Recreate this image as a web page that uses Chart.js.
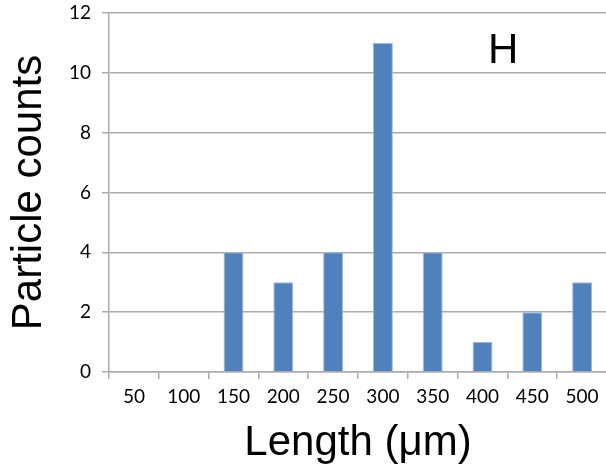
<!DOCTYPE html>
<html>
<head>
<meta charset="utf-8">
<script src="https://cdn.jsdelivr.net/npm/chart.js@4"></script>
<style>
  html, body { margin: 0; padding: 0; background: #fff; overflow: hidden; }
  #wrap { width: 610px; height: 469px; }
</style>
</head>
<body>
<div id="wrap"><canvas id="chart" width="610" height="469"></canvas></div>
<script>
// ----------- Data -----------
const lengths = ["50", "100", "150", "200", "250", "300", "350", "400", "450", "500"];
const counts = [0, 0, 4, 3, 4, 11, 4, 1, 2, 3];
const yTicks = [0, 2, 4, 6, 8, 10, 12];
const panelLabel = "H";

const gridColor = "#ABABAB";

// panel letter in the top right corner
const panelLabelPlugin = {
  id: "panelLabel",
  afterDraw(chart) {
    const { ctx, chartArea } = chart;
    ctx.save();
    ctx.font = "42px 'Liberation Sans', Arial, sans-serif";
    ctx.fillStyle = "#000";
    ctx.textBaseline = "alphabetic";
    ctx.fillText(panelLabel, chartArea.left + 379, chartArea.top + 50);
    ctx.restore();
  }
};

new Chart(document.getElementById("chart").getContext("2d"), {
  type: "bar",
  data: {
    labels: lengths,
    datasets: [{
      data: counts,
      backgroundColor: "#4F81BD",
      borderColor: "#9DB9DD",
      borderWidth: 1,
      barPercentage: 0.4,
      categoryPercentage: 1.0
    }]
  },
  options: {
    responsive: false,
    animation: false,
    layout: { padding: { top: 13, right: 3, left: 0, bottom: 0 } },
    plugins: { legend: { display: false }, tooltip: { enabled: false } },
    scales: {
      x: {
        offset: true,
        grid: { offset: true, drawOnChartArea: false, drawTicks: true, tickLength: 7, color: gridColor, lineWidth: 1.5 },
        border: { color: gridColor, width: 1.5 },
        ticks: { color: "#000", font: { family: "Lato, sans-serif", size: 19 }, padding: 6, maxRotation: 0 },
        title: { display: true, text: "Length (μm)", color: "#000", font: { family: "'Liberation Sans', Arial, sans-serif", size: 42 }, padding: { top: 9, bottom: 0 } },
        afterFit(scale) { scale.height = 97; scale.paddingLeft = 0; scale.paddingRight = 0; }
      },
      y: {
        min: 0,
        max: 12,
        afterBuildTicks(scale) { scale.ticks = yTicks.map(v => ({ value: v })); },
        grid: { drawTicks: true, tickLength: 7, color: gridColor, lineWidth: 1.5 },
        border: { color: gridColor, width: 1.5 },
        ticks: { color: "#000", font: { family: "Lato, sans-serif", size: 19 }, padding: 11 },
        title: { display: true, text: "Particle counts", color: "#000", font: { family: "'Liberation Sans', Arial, sans-serif", size: 42 }, padding: { top: 4, bottom: 0 } },
        afterFit(scale) { scale.width = 109; scale.paddingTop = 0; scale.paddingBottom = 0; }
      }
    }
  },
  plugins: [panelLabelPlugin]
});
</script>
</body>
</html>
